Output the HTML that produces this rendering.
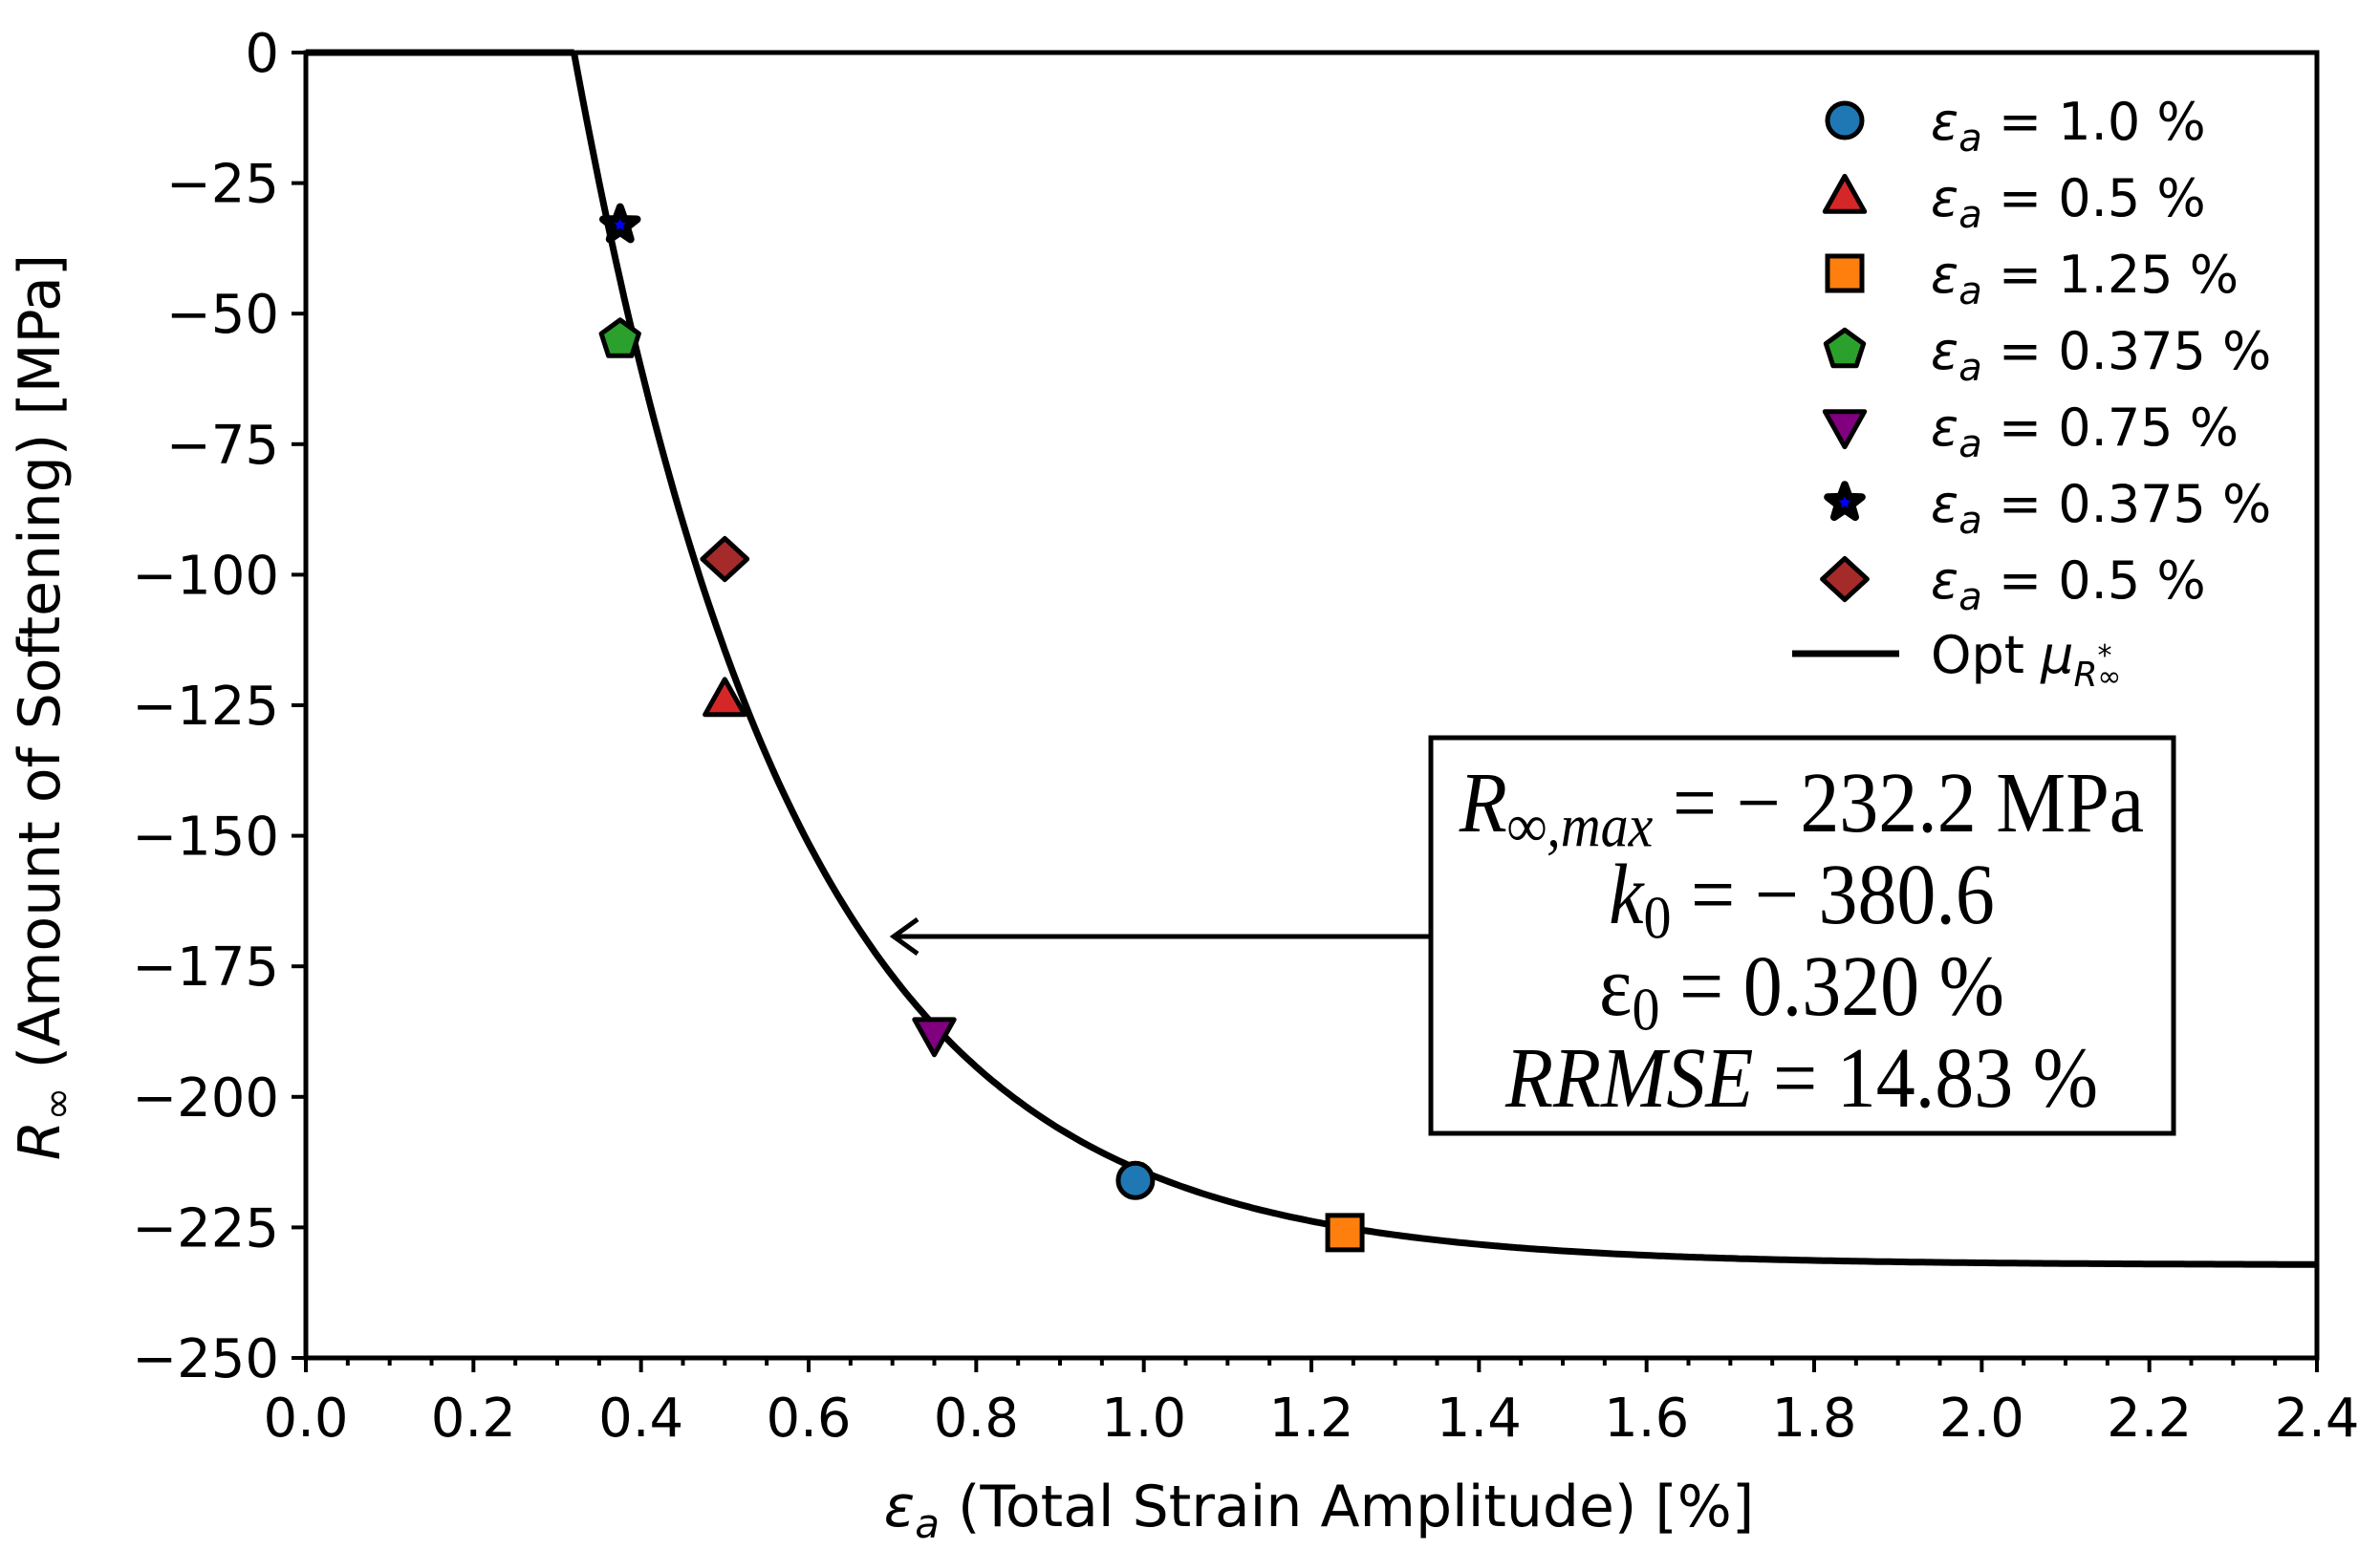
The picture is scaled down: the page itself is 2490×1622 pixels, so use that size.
<!DOCTYPE html>
<html><head><meta charset="utf-8"><style>
html,body{margin:0;padding:0;background:#fff}
svg{display:block}
text{font-family:"DejaVu Sans","Liberation Sans",sans-serif;fill:#000}
.tk{font-size:56px}
.lg{font-size:54px}
text.tb{font-family:"Liberation Serif",serif;font-size:82px}
</style></head><body>
<svg id="s" width="2490" height="1622" viewBox="0 0 2490 1622" xmlns="http://www.w3.org/2000/svg">
<g id="ticks" stroke="#000" stroke-width="4"></g>
<g id="tl"></g>
<path id="curve" fill="none" stroke="#000" stroke-width="7"/>
<rect x="320" y="55" width="2104" height="1366" fill="none" stroke="#000" stroke-width="5"/>
<g id="pts" stroke="#000" stroke-width="5"></g>
<text x="1380" y="1597" text-anchor="middle" style="font-size:60px"><tspan font-style="italic">ε</tspan><tspan font-style="italic" font-size="42" dy="12">a</tspan><tspan dy="-12"> (Total Strain Amplitude) [%]</tspan></text>
<text transform="translate(62,740) rotate(-90)" text-anchor="middle" style="font-size:60px"><tspan font-style="italic">R</tspan><tspan font-size="42" dy="12">∞</tspan><tspan dy="-12"> (Amount of Softening) [MPa]</tspan></text>
<rect x="1497" y="772" width="777" height="414" fill="#fff" stroke="#000" stroke-width="5"/>
<line x1="1497" y1="980" x2="935" y2="980" stroke="#000" stroke-width="5"/>
<polyline points="960,962 935,980 960,998" fill="none" stroke="#000" stroke-width="5"/>
<g transform="translate(1885,0)">
<text class="tb" text-anchor="middle" transform="translate(0,870) scale(1,1.1)"><tspan font-style="italic">R</tspan><tspan font-style="italic" font-size="58" dy="14">∞,max</tspan><tspan dy="-14"> = − 232.2 MPa</tspan></text>
<text class="tb" text-anchor="middle" transform="translate(0,966) scale(1,1.1)"><tspan font-style="italic">k</tspan><tspan font-size="58" dy="14">0</tspan><tspan dy="-14"> = − 380.6</tspan></text>
<text class="tb" text-anchor="middle" transform="translate(0,1062) scale(1,1.1)">ε<tspan font-size="58" dy="14">0</tspan><tspan dy="-14"> = 0.320 %</tspan></text>
<text class="tb" text-anchor="middle" transform="translate(0,1158) scale(1,1.1)"><tspan font-style="italic">RRMSE</tspan> = 14.83 %</text>
</g>
<g id="leg"></g>
</svg>
<script>
var NS="http://www.w3.org/2000/svg";
function X(x){return 320+x*876.67}
function Y(r){return 55-r*5.464}
function el(p,t,a,txt){var e=document.createElementNS(NS,t);for(var k in a)e.setAttribute(k,a[k]);if(txt!==undefined)e.textContent=txt;document.getElementById(p).appendChild(e);return e}
for(var i=0;i<=48;i++){var x=X(i*0.05);var maj=i%4==0;el("ticks","line",{x1:x,y1:1421,x2:x,y2:maj?1436:1429});
 if(maj)el("tl","text",{x:x,y:1503,"text-anchor":"middle","class":"tk"},(i*0.05).toFixed(1));}
for(var r=0;r>=-250;r-=25){var y=Y(r);el("ticks","line",{x1:305,y1:y,x2:320,y2:y});
 el("tl","text",{x:292,y:y+20,"text-anchor":"end","class":"tk"},r==0?"0":"−"+(-r));}
var d="M"+X(0)+","+Y(0)+" L"+X(0.32)+","+Y(0);
for(var x=0.32;x<=2.4001;x+=0.005){var R=-232.2*(1-Math.exp(-(x-0.32)/0.265));d+=" L"+X(x).toFixed(1)+","+Y(R).toFixed(1);}
document.getElementById("curve").setAttribute("d",d);
function marker(g,type,cx,cy,s,fill){
 var a={fill:fill};
 if(type=="o"){a.cx=cx;a.cy=cy;a.r=s;el(g,"circle",a);return}
 if(type=="s"){a.x=cx-s;a.y=cy-s;a.width=2*s;a.height=2*s;el(g,"rect",a);return}
 var pts=[];
 if(type=="^")pts=[[0,-1.2],[1.15,0.85],[-1.15,0.85]];
 if(type=="v")pts=[[0,1.2],[1.15,-0.85],[-1.15,-0.85]];
 if(type=="D")pts=[[0,-1.2],[1.3,0],[0,1.2],[-1.3,0]];
 if(type=="p"){for(var k=0;k<5;k++){var t=-Math.PI/2+k*2*Math.PI/5;pts.push([Math.cos(t)*1.15,Math.sin(t)*1.15])}}
 if(type=="*"){for(var k=0;k<10;k++){var t=-Math.PI/2+k*Math.PI/5;var rr=k%2?0.45:1.1;pts.push([Math.cos(t)*rr,Math.sin(t)*rr])}}
 a.points=pts.map(function(p){return (cx+p[0]*s).toFixed(1)+","+(cy+p[1]*s).toFixed(1)}).join(" ");
 a["stroke-linejoin"]="round";
 if(type=="*")a["stroke-width"]=8;
 el(g,"polygon",a);
}
var data=[["o",0.99,-216,"#1f77b4","1.0"],["^",0.5,-124,"#d62728","0.5"],["s",1.24,-226,"#ff7f0e","1.25"],["p",0.375,-55,"#2ca02c","0.375"],["v",0.75,-188,"#800080","0.75"],["*",0.375,-33,"#0000ff","0.375"],["D",0.5,-97,"#a52a2a","0.5"]];
data.forEach(function(p,i){
 var s=p[0]=="*"?17:18;
 marker("pts",p[0],X(p[1]),Y(p[2]),s,p[3]);
 var ly=126+i*80;
 marker("pts",p[0],1930,ly,s,p[3]);
 var t=el("leg","text",{x:2020,y:ly+20,"class":"lg"});
 t.innerHTML='<tspan font-style="italic">ε</tspan><tspan font-style="italic" font-size="40" dy="12">a</tspan><tspan dy="-12"> = '+p[4]+' %</tspan>';
});
el("leg","line",{x1:1875,y1:684,x2:1987,y2:684,stroke:"#000","stroke-width":7});
var t=el("leg","text",{x:2020,y:704,"class":"lg"});
t.innerHTML='Opt <tspan font-style="italic">μ</tspan><tspan font-style="italic" font-size="36" dy="14">R</tspan><tspan font-size="30" dy="-22">*</tspan><tspan font-size="30" dx="-15" dy="22">∞</tspan>';
</script>
</body></html>
